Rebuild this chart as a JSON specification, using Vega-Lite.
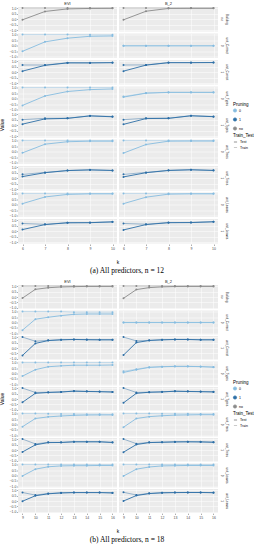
{
"$schema": "https://vega.github.io/schema/vega-lite/v6.json",
"padding": {"left": 0, "top": 1, "right": 0, "bottom": 0},
"background": "white",
"datasets": {
"a": [
{"r":1,"c":"EVI","p":"no","t":"Train","k":6,"v":1},{"r":1,"c":"EVI","p":"no","t":"Train","k":7,"v":1},{"r":1,"c":"EVI","p":"no","t":"Train","k":8,"v":1},{"r":1,"c":"EVI","p":"no","t":"Train","k":9,"v":1},{"r":1,"c":"EVI","p":"no","t":"Train","k":10,"v":1},
{"r":1,"c":"EVI","p":"no","t":"Test","k":6,"v":-0.05},{"r":1,"c":"EVI","p":"no","t":"Test","k":7,"v":0.7},{"r":1,"c":"EVI","p":"no","t":"Test","k":8,"v":0.93},{"r":1,"c":"EVI","p":"no","t":"Test","k":9,"v":0.97},{"r":1,"c":"EVI","p":"no","t":"Test","k":10,"v":0.98},
{"r":2,"c":"EVI","p":"0","t":"Train","k":6,"v":1},{"r":2,"c":"EVI","p":"0","t":"Train","k":7,"v":1},{"r":2,"c":"EVI","p":"0","t":"Train","k":8,"v":1},{"r":2,"c":"EVI","p":"0","t":"Train","k":9,"v":0.98},{"r":2,"c":"EVI","p":"0","t":"Train","k":10,"v":0.98},
{"r":2,"c":"EVI","p":"0","t":"Test","k":6,"v":-0.5},{"r":2,"c":"EVI","p":"0","t":"Test","k":7,"v":0.35},{"r":2,"c":"EVI","p":"0","t":"Test","k":8,"v":0.68},{"r":2,"c":"EVI","p":"0","t":"Test","k":9,"v":0.85},{"r":2,"c":"EVI","p":"0","t":"Test","k":10,"v":0.88},
{"r":3,"c":"EVI","p":"1","t":"Train","k":6,"v":0.65},{"r":3,"c":"EVI","p":"1","t":"Train","k":7,"v":0.65},{"r":3,"c":"EVI","p":"1","t":"Train","k":8,"v":0.86},{"r":3,"c":"EVI","p":"1","t":"Train","k":9,"v":0.85},{"r":3,"c":"EVI","p":"1","t":"Train","k":10,"v":0.87},
{"r":3,"c":"EVI","p":"1","t":"Test","k":6,"v":0.1},{"r":3,"c":"EVI","p":"1","t":"Test","k":7,"v":0.62},{"r":3,"c":"EVI","p":"1","t":"Test","k":8,"v":0.84},{"r":3,"c":"EVI","p":"1","t":"Test","k":9,"v":0.84},{"r":3,"c":"EVI","p":"1","t":"Test","k":10,"v":0.86},
{"r":4,"c":"EVI","p":"0","t":"Train","k":6,"v":1},{"r":4,"c":"EVI","p":"0","t":"Train","k":7,"v":1},{"r":4,"c":"EVI","p":"0","t":"Train","k":8,"v":1},{"r":4,"c":"EVI","p":"0","t":"Train","k":9,"v":1},{"r":4,"c":"EVI","p":"0","t":"Train","k":10,"v":1},
{"r":4,"c":"EVI","p":"0","t":"Test","k":6,"v":-0.6},{"r":4,"c":"EVI","p":"0","t":"Test","k":7,"v":0.25},{"r":4,"c":"EVI","p":"0","t":"Test","k":8,"v":0.65},{"r":4,"c":"EVI","p":"0","t":"Test","k":9,"v":0.82},{"r":4,"c":"EVI","p":"0","t":"Test","k":10,"v":0.88},
{"r":5,"c":"EVI","p":"1","t":"Train","k":6,"v":0.5},{"r":5,"c":"EVI","p":"1","t":"Train","k":7,"v":0.62},{"r":5,"c":"EVI","p":"1","t":"Train","k":8,"v":0.63},{"r":5,"c":"EVI","p":"1","t":"Train","k":9,"v":0.85},{"r":5,"c":"EVI","p":"1","t":"Train","k":10,"v":0.78},
{"r":5,"c":"EVI","p":"1","t":"Test","k":6,"v":0.1},{"r":5,"c":"EVI","p":"1","t":"Test","k":7,"v":0.57},{"r":5,"c":"EVI","p":"1","t":"Test","k":8,"v":0.62},{"r":5,"c":"EVI","p":"1","t":"Test","k":9,"v":0.84},{"r":5,"c":"EVI","p":"1","t":"Test","k":10,"v":0.76},
{"r":6,"c":"EVI","p":"0","t":"Train","k":6,"v":1},{"r":6,"c":"EVI","p":"0","t":"Train","k":7,"v":1},{"r":6,"c":"EVI","p":"0","t":"Train","k":8,"v":1},{"r":6,"c":"EVI","p":"0","t":"Train","k":9,"v":1},{"r":6,"c":"EVI","p":"0","t":"Train","k":10,"v":1},
{"r":6,"c":"EVI","p":"0","t":"Test","k":6,"v":-0.1},{"r":6,"c":"EVI","p":"0","t":"Test","k":7,"v":0.68},{"r":6,"c":"EVI","p":"0","t":"Test","k":8,"v":0.9},{"r":6,"c":"EVI","p":"0","t":"Test","k":9,"v":0.95},{"r":6,"c":"EVI","p":"0","t":"Test","k":10,"v":0.95},
{"r":7,"c":"EVI","p":"1","t":"Train","k":6,"v":0.35},{"r":7,"c":"EVI","p":"1","t":"Train","k":7,"v":0.52},{"r":7,"c":"EVI","p":"1","t":"Train","k":8,"v":0.7},{"r":7,"c":"EVI","p":"1","t":"Train","k":9,"v":0.76},{"r":7,"c":"EVI","p":"1","t":"Train","k":10,"v":0.7},
{"r":7,"c":"EVI","p":"1","t":"Test","k":6,"v":0.15},{"r":7,"c":"EVI","p":"1","t":"Test","k":7,"v":0.5},{"r":7,"c":"EVI","p":"1","t":"Test","k":8,"v":0.69},{"r":7,"c":"EVI","p":"1","t":"Test","k":9,"v":0.75},{"r":7,"c":"EVI","p":"1","t":"Test","k":10,"v":0.7},
{"r":8,"c":"EVI","p":"0","t":"Train","k":6,"v":1},{"r":8,"c":"EVI","p":"0","t":"Train","k":7,"v":1},{"r":8,"c":"EVI","p":"0","t":"Train","k":8,"v":1},{"r":8,"c":"EVI","p":"0","t":"Train","k":9,"v":1},{"r":8,"c":"EVI","p":"0","t":"Train","k":10,"v":1},
{"r":8,"c":"EVI","p":"0","t":"Test","k":6,"v":0.1},{"r":8,"c":"EVI","p":"0","t":"Test","k":7,"v":0.7},{"r":8,"c":"EVI","p":"0","t":"Test","k":8,"v":0.93},{"r":8,"c":"EVI","p":"0","t":"Test","k":9,"v":0.98},{"r":8,"c":"EVI","p":"0","t":"Test","k":10,"v":0.98},
{"r":9,"c":"EVI","p":"1","t":"Train","k":6,"v":0.7},{"r":9,"c":"EVI","p":"1","t":"Train","k":7,"v":0.62},{"r":9,"c":"EVI","p":"1","t":"Train","k":8,"v":0.77},{"r":9,"c":"EVI","p":"1","t":"Train","k":9,"v":0.78},{"r":9,"c":"EVI","p":"1","t":"Train","k":10,"v":0.85},
{"r":9,"c":"EVI","p":"1","t":"Test","k":6,"v":0.15},{"r":9,"c":"EVI","p":"1","t":"Test","k":7,"v":0.6},{"r":9,"c":"EVI","p":"1","t":"Test","k":8,"v":0.76},{"r":9,"c":"EVI","p":"1","t":"Test","k":9,"v":0.77},{"r":9,"c":"EVI","p":"1","t":"Test","k":10,"v":0.84},
{"r":1,"c":"B_2","p":"no","t":"Train","k":6,"v":1},{"r":1,"c":"B_2","p":"no","t":"Train","k":7,"v":1},{"r":1,"c":"B_2","p":"no","t":"Train","k":8,"v":1},{"r":1,"c":"B_2","p":"no","t":"Train","k":9,"v":1},{"r":1,"c":"B_2","p":"no","t":"Train","k":10,"v":1},
{"r":1,"c":"B_2","p":"no","t":"Test","k":6,"v":-0.05},{"r":1,"c":"B_2","p":"no","t":"Test","k":7,"v":0.72},{"r":1,"c":"B_2","p":"no","t":"Test","k":8,"v":0.97},{"r":1,"c":"B_2","p":"no","t":"Test","k":9,"v":0.98},{"r":1,"c":"B_2","p":"no","t":"Test","k":10,"v":0.98},
{"r":2,"c":"B_2","p":"0","t":"Train","k":6,"v":0.01},{"r":2,"c":"B_2","p":"0","t":"Train","k":7,"v":0.01},{"r":2,"c":"B_2","p":"0","t":"Train","k":8,"v":0.01},{"r":2,"c":"B_2","p":"0","t":"Train","k":9,"v":0.01},{"r":2,"c":"B_2","p":"0","t":"Train","k":10,"v":0.01},
{"r":2,"c":"B_2","p":"0","t":"Test","k":6,"v":-0.01},{"r":2,"c":"B_2","p":"0","t":"Test","k":7,"v":-0.01},{"r":2,"c":"B_2","p":"0","t":"Test","k":8,"v":-0.01},{"r":2,"c":"B_2","p":"0","t":"Test","k":9,"v":-0.01},{"r":2,"c":"B_2","p":"0","t":"Test","k":10,"v":-0.01},
{"r":3,"c":"B_2","p":"1","t":"Train","k":6,"v":0.65},{"r":3,"c":"B_2","p":"1","t":"Train","k":7,"v":0.66},{"r":3,"c":"B_2","p":"1","t":"Train","k":8,"v":0.87},{"r":3,"c":"B_2","p":"1","t":"Train","k":9,"v":0.87},{"r":3,"c":"B_2","p":"1","t":"Train","k":10,"v":0.88},
{"r":3,"c":"B_2","p":"1","t":"Test","k":6,"v":0.1},{"r":3,"c":"B_2","p":"1","t":"Test","k":7,"v":0.64},{"r":3,"c":"B_2","p":"1","t":"Test","k":8,"v":0.86},{"r":3,"c":"B_2","p":"1","t":"Test","k":9,"v":0.86},{"r":3,"c":"B_2","p":"1","t":"Test","k":10,"v":0.87},
{"r":4,"c":"B_2","p":"0","t":"Train","k":6,"v":0.2},{"r":4,"c":"B_2","p":"0","t":"Train","k":7,"v":0.52},{"r":4,"c":"B_2","p":"0","t":"Train","k":8,"v":0.58},{"r":4,"c":"B_2","p":"0","t":"Train","k":9,"v":0.58},{"r":4,"c":"B_2","p":"0","t":"Train","k":10,"v":0.58},
{"r":4,"c":"B_2","p":"0","t":"Test","k":6,"v":0.15},{"r":4,"c":"B_2","p":"0","t":"Test","k":7,"v":0.5},{"r":4,"c":"B_2","p":"0","t":"Test","k":8,"v":0.57},{"r":4,"c":"B_2","p":"0","t":"Test","k":9,"v":0.57},{"r":4,"c":"B_2","p":"0","t":"Test","k":10,"v":0.57},
{"r":5,"c":"B_2","p":"1","t":"Train","k":6,"v":0.5},{"r":5,"c":"B_2","p":"1","t":"Train","k":7,"v":0.63},{"r":5,"c":"B_2","p":"1","t":"Train","k":8,"v":0.63},{"r":5,"c":"B_2","p":"1","t":"Train","k":9,"v":0.86},{"r":5,"c":"B_2","p":"1","t":"Train","k":10,"v":0.78},
{"r":5,"c":"B_2","p":"1","t":"Test","k":6,"v":0.08},{"r":5,"c":"B_2","p":"1","t":"Test","k":7,"v":0.6},{"r":5,"c":"B_2","p":"1","t":"Test","k":8,"v":0.62},{"r":5,"c":"B_2","p":"1","t":"Test","k":9,"v":0.85},{"r":5,"c":"B_2","p":"1","t":"Test","k":10,"v":0.77},
{"r":6,"c":"B_2","p":"0","t":"Train","k":6,"v":1},{"r":6,"c":"B_2","p":"0","t":"Train","k":7,"v":1},{"r":6,"c":"B_2","p":"0","t":"Train","k":8,"v":1},{"r":6,"c":"B_2","p":"0","t":"Train","k":9,"v":1},{"r":6,"c":"B_2","p":"0","t":"Train","k":10,"v":1},
{"r":6,"c":"B_2","p":"0","t":"Test","k":6,"v":-0.12},{"r":6,"c":"B_2","p":"0","t":"Test","k":7,"v":0.65},{"r":6,"c":"B_2","p":"0","t":"Test","k":8,"v":0.95},{"r":6,"c":"B_2","p":"0","t":"Test","k":9,"v":0.96},{"r":6,"c":"B_2","p":"0","t":"Test","k":10,"v":0.96},
{"r":7,"c":"B_2","p":"1","t":"Train","k":6,"v":0.35},{"r":7,"c":"B_2","p":"1","t":"Train","k":7,"v":0.52},{"r":7,"c":"B_2","p":"1","t":"Train","k":8,"v":0.71},{"r":7,"c":"B_2","p":"1","t":"Train","k":9,"v":0.77},{"r":7,"c":"B_2","p":"1","t":"Train","k":10,"v":0.71},
{"r":7,"c":"B_2","p":"1","t":"Test","k":6,"v":0.12},{"r":7,"c":"B_2","p":"1","t":"Test","k":7,"v":0.5},{"r":7,"c":"B_2","p":"1","t":"Test","k":8,"v":0.7},{"r":7,"c":"B_2","p":"1","t":"Test","k":9,"v":0.76},{"r":7,"c":"B_2","p":"1","t":"Test","k":10,"v":0.7},
{"r":8,"c":"B_2","p":"0","t":"Train","k":6,"v":1},{"r":8,"c":"B_2","p":"0","t":"Train","k":7,"v":1},{"r":8,"c":"B_2","p":"0","t":"Train","k":8,"v":1},{"r":8,"c":"B_2","p":"0","t":"Train","k":9,"v":1},{"r":8,"c":"B_2","p":"0","t":"Train","k":10,"v":1},
{"r":8,"c":"B_2","p":"0","t":"Test","k":6,"v":0.1},{"r":8,"c":"B_2","p":"0","t":"Test","k":7,"v":0.68},{"r":8,"c":"B_2","p":"0","t":"Test","k":8,"v":0.95},{"r":8,"c":"B_2","p":"0","t":"Test","k":9,"v":0.98},{"r":8,"c":"B_2","p":"0","t":"Test","k":10,"v":0.98},
{"r":9,"c":"B_2","p":"1","t":"Train","k":6,"v":0.7},{"r":9,"c":"B_2","p":"1","t":"Train","k":7,"v":0.63},{"r":9,"c":"B_2","p":"1","t":"Train","k":8,"v":0.78},{"r":9,"c":"B_2","p":"1","t":"Train","k":9,"v":0.79},{"r":9,"c":"B_2","p":"1","t":"Train","k":10,"v":0.86},
{"r":9,"c":"B_2","p":"1","t":"Test","k":6,"v":0.12},{"r":9,"c":"B_2","p":"1","t":"Test","k":7,"v":0.6},{"r":9,"c":"B_2","p":"1","t":"Test","k":8,"v":0.77},{"r":9,"c":"B_2","p":"1","t":"Test","k":9,"v":0.78},{"r":9,"c":"B_2","p":"1","t":"Test","k":10,"v":0.85}
],
"b": [
{"r":1,"c":"EVI","p":"no","t":"Train","k":9,"v":1},{"r":1,"c":"EVI","p":"no","t":"Train","k":10,"v":1},{"r":1,"c":"EVI","p":"no","t":"Train","k":11,"v":1},{"r":1,"c":"EVI","p":"no","t":"Train","k":12,"v":1},{"r":1,"c":"EVI","p":"no","t":"Train","k":13,"v":1},{"r":1,"c":"EVI","p":"no","t":"Train","k":14,"v":1},{"r":1,"c":"EVI","p":"no","t":"Train","k":15,"v":1},{"r":1,"c":"EVI","p":"no","t":"Train","k":16,"v":1},
{"r":1,"c":"EVI","p":"no","t":"Test","k":9,"v":-0.1},{"r":1,"c":"EVI","p":"no","t":"Test","k":10,"v":0.7},{"r":1,"c":"EVI","p":"no","t":"Test","k":11,"v":0.85},{"r":1,"c":"EVI","p":"no","t":"Test","k":12,"v":0.92},{"r":1,"c":"EVI","p":"no","t":"Test","k":13,"v":0.95},{"r":1,"c":"EVI","p":"no","t":"Test","k":14,"v":0.97},{"r":1,"c":"EVI","p":"no","t":"Test","k":15,"v":0.97},{"r":1,"c":"EVI","p":"no","t":"Test","k":16,"v":0.97},
{"r":2,"c":"EVI","p":"0","t":"Train","k":9,"v":1},{"r":2,"c":"EVI","p":"0","t":"Train","k":10,"v":1},{"r":2,"c":"EVI","p":"0","t":"Train","k":11,"v":1},{"r":2,"c":"EVI","p":"0","t":"Train","k":12,"v":1},{"r":2,"c":"EVI","p":"0","t":"Train","k":13,"v":0.95},{"r":2,"c":"EVI","p":"0","t":"Train","k":14,"v":0.95},{"r":2,"c":"EVI","p":"0","t":"Train","k":15,"v":0.95},{"r":2,"c":"EVI","p":"0","t":"Train","k":16,"v":0.95},
{"r":2,"c":"EVI","p":"0","t":"Test","k":9,"v":-0.7},{"r":2,"c":"EVI","p":"0","t":"Test","k":10,"v":0.3},{"r":2,"c":"EVI","p":"0","t":"Test","k":11,"v":0.48},{"r":2,"c":"EVI","p":"0","t":"Test","k":12,"v":0.63},{"r":2,"c":"EVI","p":"0","t":"Test","k":13,"v":0.75},{"r":2,"c":"EVI","p":"0","t":"Test","k":14,"v":0.78},{"r":2,"c":"EVI","p":"0","t":"Test","k":15,"v":0.78},{"r":2,"c":"EVI","p":"0","t":"Test","k":16,"v":0.78},
{"r":3,"c":"EVI","p":"1","t":"Train","k":9,"v":1},{"r":3,"c":"EVI","p":"1","t":"Train","k":10,"v":0.62},{"r":3,"c":"EVI","p":"1","t":"Train","k":11,"v":0.7},{"r":3,"c":"EVI","p":"1","t":"Train","k":12,"v":0.76},{"r":3,"c":"EVI","p":"1","t":"Train","k":13,"v":0.79},{"r":3,"c":"EVI","p":"1","t":"Train","k":14,"v":0.77},{"r":3,"c":"EVI","p":"1","t":"Train","k":15,"v":0.76},{"r":3,"c":"EVI","p":"1","t":"Train","k":16,"v":0.76},
{"r":3,"c":"EVI","p":"1","t":"Test","k":9,"v":-0.68},{"r":3,"c":"EVI","p":"1","t":"Test","k":10,"v":0.42},{"r":3,"c":"EVI","p":"1","t":"Test","k":11,"v":0.68},{"r":3,"c":"EVI","p":"1","t":"Test","k":12,"v":0.75},{"r":3,"c":"EVI","p":"1","t":"Test","k":13,"v":0.78},{"r":3,"c":"EVI","p":"1","t":"Test","k":14,"v":0.76},{"r":3,"c":"EVI","p":"1","t":"Test","k":15,"v":0.75},{"r":3,"c":"EVI","p":"1","t":"Test","k":16,"v":0.75},
{"r":4,"c":"EVI","p":"0","t":"Train","k":9,"v":1},{"r":4,"c":"EVI","p":"0","t":"Train","k":10,"v":1},{"r":4,"c":"EVI","p":"0","t":"Train","k":11,"v":1},{"r":4,"c":"EVI","p":"0","t":"Train","k":12,"v":1},{"r":4,"c":"EVI","p":"0","t":"Train","k":13,"v":1},{"r":4,"c":"EVI","p":"0","t":"Train","k":14,"v":1},{"r":4,"c":"EVI","p":"0","t":"Train","k":15,"v":1},{"r":4,"c":"EVI","p":"0","t":"Train","k":16,"v":1},
{"r":4,"c":"EVI","p":"0","t":"Test","k":9,"v":-0.24},{"r":4,"c":"EVI","p":"0","t":"Test","k":10,"v":0.35},{"r":4,"c":"EVI","p":"0","t":"Test","k":11,"v":0.62},{"r":4,"c":"EVI","p":"0","t":"Test","k":12,"v":0.7},{"r":4,"c":"EVI","p":"0","t":"Test","k":13,"v":0.76},{"r":4,"c":"EVI","p":"0","t":"Test","k":14,"v":0.76},{"r":4,"c":"EVI","p":"0","t":"Test","k":15,"v":0.76},{"r":4,"c":"EVI","p":"0","t":"Test","k":16,"v":0.78},
{"r":5,"c":"EVI","p":"1","t":"Train","k":9,"v":1},{"r":5,"c":"EVI","p":"1","t":"Train","k":10,"v":0.6},{"r":5,"c":"EVI","p":"1","t":"Train","k":11,"v":0.62},{"r":5,"c":"EVI","p":"1","t":"Train","k":12,"v":0.65},{"r":5,"c":"EVI","p":"1","t":"Train","k":13,"v":0.73},{"r":5,"c":"EVI","p":"1","t":"Train","k":14,"v":0.7},{"r":5,"c":"EVI","p":"1","t":"Train","k":15,"v":0.68},{"r":5,"c":"EVI","p":"1","t":"Train","k":16,"v":0.65},
{"r":5,"c":"EVI","p":"1","t":"Test","k":9,"v":-0.3},{"r":5,"c":"EVI","p":"1","t":"Test","k":10,"v":0.52},{"r":5,"c":"EVI","p":"1","t":"Test","k":11,"v":0.6},{"r":5,"c":"EVI","p":"1","t":"Test","k":12,"v":0.64},{"r":5,"c":"EVI","p":"1","t":"Test","k":13,"v":0.72},{"r":5,"c":"EVI","p":"1","t":"Test","k":14,"v":0.69},{"r":5,"c":"EVI","p":"1","t":"Test","k":15,"v":0.67},{"r":5,"c":"EVI","p":"1","t":"Test","k":16,"v":0.64},
{"r":6,"c":"EVI","p":"0","t":"Train","k":9,"v":1},{"r":6,"c":"EVI","p":"0","t":"Train","k":10,"v":1},{"r":6,"c":"EVI","p":"0","t":"Train","k":11,"v":0.98},{"r":6,"c":"EVI","p":"0","t":"Train","k":12,"v":0.97},{"r":6,"c":"EVI","p":"0","t":"Train","k":13,"v":0.96},{"r":6,"c":"EVI","p":"0","t":"Train","k":14,"v":0.95},{"r":6,"c":"EVI","p":"0","t":"Train","k":15,"v":0.95},{"r":6,"c":"EVI","p":"0","t":"Train","k":16,"v":0.93},
{"r":6,"c":"EVI","p":"0","t":"Test","k":9,"v":-0.2},{"r":6,"c":"EVI","p":"0","t":"Test","k":10,"v":0.55},{"r":6,"c":"EVI","p":"0","t":"Test","k":11,"v":0.7},{"r":6,"c":"EVI","p":"0","t":"Test","k":12,"v":0.78},{"r":6,"c":"EVI","p":"0","t":"Test","k":13,"v":0.84},{"r":6,"c":"EVI","p":"0","t":"Test","k":14,"v":0.87},{"r":6,"c":"EVI","p":"0","t":"Test","k":15,"v":0.88},{"r":6,"c":"EVI","p":"0","t":"Test","k":16,"v":0.88},
{"r":7,"c":"EVI","p":"1","t":"Train","k":9,"v":1},{"r":7,"c":"EVI","p":"1","t":"Train","k":10,"v":0.56},{"r":7,"c":"EVI","p":"1","t":"Train","k":11,"v":0.7},{"r":7,"c":"EVI","p":"1","t":"Train","k":12,"v":0.7},{"r":7,"c":"EVI","p":"1","t":"Train","k":13,"v":0.76},{"r":7,"c":"EVI","p":"1","t":"Train","k":14,"v":0.76},{"r":7,"c":"EVI","p":"1","t":"Train","k":15,"v":0.76},{"r":7,"c":"EVI","p":"1","t":"Train","k":16,"v":0.7},
{"r":7,"c":"EVI","p":"1","t":"Test","k":9,"v":-0.18},{"r":7,"c":"EVI","p":"1","t":"Test","k":10,"v":0.47},{"r":7,"c":"EVI","p":"1","t":"Test","k":11,"v":0.68},{"r":7,"c":"EVI","p":"1","t":"Test","k":12,"v":0.69},{"r":7,"c":"EVI","p":"1","t":"Test","k":13,"v":0.75},{"r":7,"c":"EVI","p":"1","t":"Test","k":14,"v":0.75},{"r":7,"c":"EVI","p":"1","t":"Test","k":15,"v":0.75},{"r":7,"c":"EVI","p":"1","t":"Test","k":16,"v":0.69},
{"r":8,"c":"EVI","p":"0","t":"Train","k":9,"v":1},{"r":8,"c":"EVI","p":"0","t":"Train","k":10,"v":1},{"r":8,"c":"EVI","p":"0","t":"Train","k":11,"v":1},{"r":8,"c":"EVI","p":"0","t":"Train","k":12,"v":1},{"r":8,"c":"EVI","p":"0","t":"Train","k":13,"v":1},{"r":8,"c":"EVI","p":"0","t":"Train","k":14,"v":1},{"r":8,"c":"EVI","p":"0","t":"Train","k":15,"v":1},{"r":8,"c":"EVI","p":"0","t":"Train","k":16,"v":1},
{"r":8,"c":"EVI","p":"0","t":"Test","k":9,"v":-0.04},{"r":8,"c":"EVI","p":"0","t":"Test","k":10,"v":0.58},{"r":8,"c":"EVI","p":"0","t":"Test","k":11,"v":0.8},{"r":8,"c":"EVI","p":"0","t":"Test","k":12,"v":0.88},{"r":8,"c":"EVI","p":"0","t":"Test","k":13,"v":0.9},{"r":8,"c":"EVI","p":"0","t":"Test","k":14,"v":0.9},{"r":8,"c":"EVI","p":"0","t":"Test","k":15,"v":0.92},{"r":8,"c":"EVI","p":"0","t":"Test","k":16,"v":0.92},
{"r":9,"c":"EVI","p":"1","t":"Train","k":9,"v":0.78},{"r":9,"c":"EVI","p":"1","t":"Train","k":10,"v":0.54},{"r":9,"c":"EVI","p":"1","t":"Train","k":11,"v":0.69},{"r":9,"c":"EVI","p":"1","t":"Train","k":12,"v":0.75},{"r":9,"c":"EVI","p":"1","t":"Train","k":13,"v":0.78},{"r":9,"c":"EVI","p":"1","t":"Train","k":14,"v":0.78},{"r":9,"c":"EVI","p":"1","t":"Train","k":15,"v":0.78},{"r":9,"c":"EVI","p":"1","t":"Train","k":16,"v":0.75},
{"r":9,"c":"EVI","p":"1","t":"Test","k":9,"v":-0.02},{"r":9,"c":"EVI","p":"1","t":"Test","k":10,"v":0.48},{"r":9,"c":"EVI","p":"1","t":"Test","k":11,"v":0.66},{"r":9,"c":"EVI","p":"1","t":"Test","k":12,"v":0.74},{"r":9,"c":"EVI","p":"1","t":"Test","k":13,"v":0.77},{"r":9,"c":"EVI","p":"1","t":"Test","k":14,"v":0.77},{"r":9,"c":"EVI","p":"1","t":"Test","k":15,"v":0.77},{"r":9,"c":"EVI","p":"1","t":"Test","k":16,"v":0.74},
{"r":1,"c":"B_2","p":"no","t":"Train","k":9,"v":1},{"r":1,"c":"B_2","p":"no","t":"Train","k":10,"v":1},{"r":1,"c":"B_2","p":"no","t":"Train","k":11,"v":1},{"r":1,"c":"B_2","p":"no","t":"Train","k":12,"v":1},{"r":1,"c":"B_2","p":"no","t":"Train","k":13,"v":1},{"r":1,"c":"B_2","p":"no","t":"Train","k":14,"v":1},{"r":1,"c":"B_2","p":"no","t":"Train","k":15,"v":1},{"r":1,"c":"B_2","p":"no","t":"Train","k":16,"v":1},
{"r":1,"c":"B_2","p":"no","t":"Test","k":9,"v":-0.12},{"r":1,"c":"B_2","p":"no","t":"Test","k":10,"v":0.68},{"r":1,"c":"B_2","p":"no","t":"Test","k":11,"v":0.86},{"r":1,"c":"B_2","p":"no","t":"Test","k":12,"v":0.93},{"r":1,"c":"B_2","p":"no","t":"Test","k":13,"v":0.96},{"r":1,"c":"B_2","p":"no","t":"Test","k":14,"v":0.97},{"r":1,"c":"B_2","p":"no","t":"Test","k":15,"v":0.97},{"r":1,"c":"B_2","p":"no","t":"Test","k":16,"v":0.97},
{"r":2,"c":"B_2","p":"0","t":"Train","k":9,"v":0.01},{"r":2,"c":"B_2","p":"0","t":"Train","k":10,"v":0.01},{"r":2,"c":"B_2","p":"0","t":"Train","k":11,"v":0.01},{"r":2,"c":"B_2","p":"0","t":"Train","k":12,"v":0.01},{"r":2,"c":"B_2","p":"0","t":"Train","k":13,"v":0.01},{"r":2,"c":"B_2","p":"0","t":"Train","k":14,"v":0.01},{"r":2,"c":"B_2","p":"0","t":"Train","k":15,"v":0.01},{"r":2,"c":"B_2","p":"0","t":"Train","k":16,"v":0.01},
{"r":2,"c":"B_2","p":"0","t":"Test","k":9,"v":-0.01},{"r":2,"c":"B_2","p":"0","t":"Test","k":10,"v":-0.01},{"r":2,"c":"B_2","p":"0","t":"Test","k":11,"v":-0.01},{"r":2,"c":"B_2","p":"0","t":"Test","k":12,"v":-0.01},{"r":2,"c":"B_2","p":"0","t":"Test","k":13,"v":-0.01},{"r":2,"c":"B_2","p":"0","t":"Test","k":14,"v":-0.01},{"r":2,"c":"B_2","p":"0","t":"Test","k":15,"v":-0.01},{"r":2,"c":"B_2","p":"0","t":"Test","k":16,"v":-0.01},
{"r":3,"c":"B_2","p":"1","t":"Train","k":9,"v":1},{"r":3,"c":"B_2","p":"1","t":"Train","k":10,"v":0.65},{"r":3,"c":"B_2","p":"1","t":"Train","k":11,"v":0.7},{"r":3,"c":"B_2","p":"1","t":"Train","k":12,"v":0.76},{"r":3,"c":"B_2","p":"1","t":"Train","k":13,"v":0.79},{"r":3,"c":"B_2","p":"1","t":"Train","k":14,"v":0.79},{"r":3,"c":"B_2","p":"1","t":"Train","k":15,"v":0.76},{"r":3,"c":"B_2","p":"1","t":"Train","k":16,"v":0.76},
{"r":3,"c":"B_2","p":"1","t":"Test","k":9,"v":-0.65},{"r":3,"c":"B_2","p":"1","t":"Test","k":10,"v":0.5},{"r":3,"c":"B_2","p":"1","t":"Test","k":11,"v":0.69},{"r":3,"c":"B_2","p":"1","t":"Test","k":12,"v":0.75},{"r":3,"c":"B_2","p":"1","t":"Test","k":13,"v":0.78},{"r":3,"c":"B_2","p":"1","t":"Test","k":14,"v":0.78},{"r":3,"c":"B_2","p":"1","t":"Test","k":15,"v":0.75},{"r":3,"c":"B_2","p":"1","t":"Test","k":16,"v":0.75},
{"r":4,"c":"B_2","p":"0","t":"Train","k":9,"v":0.2},{"r":4,"c":"B_2","p":"0","t":"Train","k":10,"v":0.4},{"r":4,"c":"B_2","p":"0","t":"Train","k":11,"v":0.58},{"r":4,"c":"B_2","p":"0","t":"Train","k":12,"v":0.63},{"r":4,"c":"B_2","p":"0","t":"Train","k":13,"v":0.66},{"r":4,"c":"B_2","p":"0","t":"Train","k":14,"v":0.66},{"r":4,"c":"B_2","p":"0","t":"Train","k":15,"v":0.64},{"r":4,"c":"B_2","p":"0","t":"Train","k":16,"v":0.6},
{"r":4,"c":"B_2","p":"0","t":"Test","k":9,"v":0.1},{"r":4,"c":"B_2","p":"0","t":"Test","k":10,"v":0.35},{"r":4,"c":"B_2","p":"0","t":"Test","k":11,"v":0.56},{"r":4,"c":"B_2","p":"0","t":"Test","k":12,"v":0.62},{"r":4,"c":"B_2","p":"0","t":"Test","k":13,"v":0.65},{"r":4,"c":"B_2","p":"0","t":"Test","k":14,"v":0.65},{"r":4,"c":"B_2","p":"0","t":"Test","k":15,"v":0.63},{"r":4,"c":"B_2","p":"0","t":"Test","k":16,"v":0.58},
{"r":5,"c":"B_2","p":"1","t":"Train","k":9,"v":1},{"r":5,"c":"B_2","p":"1","t":"Train","k":10,"v":0.6},{"r":5,"c":"B_2","p":"1","t":"Train","k":11,"v":0.63},{"r":5,"c":"B_2","p":"1","t":"Train","k":12,"v":0.66},{"r":5,"c":"B_2","p":"1","t":"Train","k":13,"v":0.72},{"r":5,"c":"B_2","p":"1","t":"Train","k":14,"v":0.7},{"r":5,"c":"B_2","p":"1","t":"Train","k":15,"v":0.68},{"r":5,"c":"B_2","p":"1","t":"Train","k":16,"v":0.66},
{"r":5,"c":"B_2","p":"1","t":"Test","k":9,"v":-0.35},{"r":5,"c":"B_2","p":"1","t":"Test","k":10,"v":0.52},{"r":5,"c":"B_2","p":"1","t":"Test","k":11,"v":0.62},{"r":5,"c":"B_2","p":"1","t":"Test","k":12,"v":0.65},{"r":5,"c":"B_2","p":"1","t":"Test","k":13,"v":0.71},{"r":5,"c":"B_2","p":"1","t":"Test","k":14,"v":0.69},{"r":5,"c":"B_2","p":"1","t":"Test","k":15,"v":0.67},{"r":5,"c":"B_2","p":"1","t":"Test","k":16,"v":0.65},
{"r":6,"c":"B_2","p":"0","t":"Train","k":9,"v":1},{"r":6,"c":"B_2","p":"0","t":"Train","k":10,"v":1},{"r":6,"c":"B_2","p":"0","t":"Train","k":11,"v":1},{"r":6,"c":"B_2","p":"0","t":"Train","k":12,"v":0.98},{"r":6,"c":"B_2","p":"0","t":"Train","k":13,"v":0.98},{"r":6,"c":"B_2","p":"0","t":"Train","k":14,"v":0.98},{"r":6,"c":"B_2","p":"0","t":"Train","k":15,"v":0.97},{"r":6,"c":"B_2","p":"0","t":"Train","k":16,"v":0.97},
{"r":6,"c":"B_2","p":"0","t":"Test","k":9,"v":-0.25},{"r":6,"c":"B_2","p":"0","t":"Test","k":10,"v":0.55},{"r":6,"c":"B_2","p":"0","t":"Test","k":11,"v":0.72},{"r":6,"c":"B_2","p":"0","t":"Test","k":12,"v":0.8},{"r":6,"c":"B_2","p":"0","t":"Test","k":13,"v":0.86},{"r":6,"c":"B_2","p":"0","t":"Test","k":14,"v":0.88},{"r":6,"c":"B_2","p":"0","t":"Test","k":15,"v":0.9},{"r":6,"c":"B_2","p":"0","t":"Test","k":16,"v":0.9},
{"r":7,"c":"B_2","p":"1","t":"Train","k":9,"v":1},{"r":7,"c":"B_2","p":"1","t":"Train","k":10,"v":0.58},{"r":7,"c":"B_2","p":"1","t":"Train","k":11,"v":0.7},{"r":7,"c":"B_2","p":"1","t":"Train","k":12,"v":0.72},{"r":7,"c":"B_2","p":"1","t":"Train","k":13,"v":0.75},{"r":7,"c":"B_2","p":"1","t":"Train","k":14,"v":0.76},{"r":7,"c":"B_2","p":"1","t":"Train","k":15,"v":0.75},{"r":7,"c":"B_2","p":"1","t":"Train","k":16,"v":0.72},
{"r":7,"c":"B_2","p":"1","t":"Test","k":9,"v":-0.2},{"r":7,"c":"B_2","p":"1","t":"Test","k":10,"v":0.5},{"r":7,"c":"B_2","p":"1","t":"Test","k":11,"v":0.68},{"r":7,"c":"B_2","p":"1","t":"Test","k":12,"v":0.71},{"r":7,"c":"B_2","p":"1","t":"Test","k":13,"v":0.74},{"r":7,"c":"B_2","p":"1","t":"Test","k":14,"v":0.75},{"r":7,"c":"B_2","p":"1","t":"Test","k":15,"v":0.74},{"r":7,"c":"B_2","p":"1","t":"Test","k":16,"v":0.71},
{"r":8,"c":"B_2","p":"0","t":"Train","k":9,"v":1},{"r":8,"c":"B_2","p":"0","t":"Train","k":10,"v":1},{"r":8,"c":"B_2","p":"0","t":"Train","k":11,"v":1},{"r":8,"c":"B_2","p":"0","t":"Train","k":12,"v":1},{"r":8,"c":"B_2","p":"0","t":"Train","k":13,"v":1},{"r":8,"c":"B_2","p":"0","t":"Train","k":14,"v":1},{"r":8,"c":"B_2","p":"0","t":"Train","k":15,"v":1},{"r":8,"c":"B_2","p":"0","t":"Train","k":16,"v":1},
{"r":8,"c":"B_2","p":"0","t":"Test","k":9,"v":-0.05},{"r":8,"c":"B_2","p":"0","t":"Test","k":10,"v":0.58},{"r":8,"c":"B_2","p":"0","t":"Test","k":11,"v":0.78},{"r":8,"c":"B_2","p":"0","t":"Test","k":12,"v":0.88},{"r":8,"c":"B_2","p":"0","t":"Test","k":13,"v":0.9},{"r":8,"c":"B_2","p":"0","t":"Test","k":14,"v":0.92},{"r":8,"c":"B_2","p":"0","t":"Test","k":15,"v":0.92},{"r":8,"c":"B_2","p":"0","t":"Test","k":16,"v":0.92},
{"r":9,"c":"B_2","p":"1","t":"Train","k":9,"v":0.8},{"r":9,"c":"B_2","p":"1","t":"Train","k":10,"v":0.55},{"r":9,"c":"B_2","p":"1","t":"Train","k":11,"v":0.7},{"r":9,"c":"B_2","p":"1","t":"Train","k":12,"v":0.76},{"r":9,"c":"B_2","p":"1","t":"Train","k":13,"v":0.78},{"r":9,"c":"B_2","p":"1","t":"Train","k":14,"v":0.79},{"r":9,"c":"B_2","p":"1","t":"Train","k":15,"v":0.79},{"r":9,"c":"B_2","p":"1","t":"Train","k":16,"v":0.77},
{"r":9,"c":"B_2","p":"1","t":"Test","k":9,"v":0},{"r":9,"c":"B_2","p":"1","t":"Test","k":10,"v":0.5},{"r":9,"c":"B_2","p":"1","t":"Test","k":11,"v":0.68},{"r":9,"c":"B_2","p":"1","t":"Test","k":12,"v":0.75},{"r":9,"c":"B_2","p":"1","t":"Test","k":13,"v":0.77},{"r":9,"c":"B_2","p":"1","t":"Test","k":14,"v":0.78},{"r":9,"c":"B_2","p":"1","t":"Test","k":15,"v":0.78},{"r":9,"c":"B_2","p":"1","t":"Test","k":16,"v":0.76}
]
},
"vconcat": [
{
"data": {"name": "a"},
"title": {"text": "(a) All predictors, n = 12", "orient": "bottom", "anchor": "middle", "font": "Liberation Serif", "fontSize": 7.5, "fontWeight": "normal", "color": "#000000", "offset": 2},
"bounds": "flush",
"facet": {
"row": {"field": "r", "type": "ordinal", "header": {"title": "Value", "titleOrient": "left", "titleFontSize": 5, "titleFontWeight": "normal", "titlePadding": -6, "labelOrient": "right", "labelAngle": 90, "labelFontSize": 3, "labelPadding": 1.5, "labelColor": "#1A1A1A", "labelExpr": "split(['','Building|no','unit_Correct|0','unit_Correct|1','unit_Types|0','unit_Types|1','unit_Trees|0','unit_Trees|1','unit_Leaves|0','unit_Leaves|1'][datum.value], '|')"}},
"column": {"field": "c", "type": "nominal", "sort": ["EVI", "B_2"], "header": {"title": "k", "titleOrient": "bottom", "titleFontSize": 5, "titleFontWeight": "normal", "titlePadding": 0, "labelOrient": "top", "labelFontSize": 4, "labelPadding": 1.5, "labelColor": "#1A1A1A"}}
},
"spacing": {"row": 1.5, "column": 2},
"spec": {
"width": 99, "height": 24.5,
"encoding": {
"x": {"field": "k", "type": "quantitative", "scale": {"domain": [5.8, 10.2], "nice": false, "zero": false}, "axis": {"values": [6, 7, 8, 9, 10], "title": null}},
"y": {"field": "v", "type": "quantitative", "scale": {"domain": [-1.1, 1.1], "nice": false}, "axis": {"values": [-1, -0.5, 0, 0.5, 1], "format": ".1f", "title": null}},
"color": {"field": "p", "type": "nominal", "scale": {"domain": ["0", "1", "no"], "range": ["#86BCE0", "#2C6EA6", "#8A8A8A"]}, "legend": {"title": "Pruning", "orient": "none", "legendX": 215, "legendY": 95}}
},
"layer": [
{"mark": {"type": "line"}, "encoding": {"strokeWidth": {"field": "t", "type": "nominal", "scale": {"domain": ["Test", "Train"], "range": [0.9, 0.45]}, "legend": {"title": "Train_Test", "orient": "none", "legendX": 215, "legendY": 126}}, "detail": {"field": "t"}}},
{"mark": {"type": "point", "filled": true, "size": 4, "opacity": 1}, "encoding": {}}
]
}
},
{
"data": {"name": "b"},
"title": {"text": "(b) All predictors, n = 18", "orient": "bottom", "anchor": "middle", "font": "Liberation Serif", "fontSize": 7.5, "fontWeight": "normal", "color": "#000000", "offset": 2},
"bounds": "flush",
"facet": {
"row": {"field": "r", "type": "ordinal", "header": {"title": "Value", "titleOrient": "left", "titleFontSize": 5, "titleFontWeight": "normal", "titlePadding": -6, "labelOrient": "right", "labelAngle": 90, "labelFontSize": 3, "labelPadding": 1.5, "labelColor": "#1A1A1A", "labelExpr": "split(['','Building|no','unit_Correct|0','unit_Correct|1','unit_Types|0','unit_Types|1','unit_Trees|0','unit_Trees|1','unit_Leaves|0','unit_Leaves|1'][datum.value], '|')"}},
"column": {"field": "c", "type": "nominal", "sort": ["EVI", "B_2"], "header": {"title": "k", "titleOrient": "bottom", "titleFontSize": 5, "titleFontWeight": "normal", "titlePadding": 0, "labelOrient": "top", "labelFontSize": 4, "labelPadding": 1.5, "labelColor": "#1A1A1A"}}
},
"spacing": {"row": 1.5, "column": 2},
"spec": {
"width": 99, "height": 24,
"encoding": {
"x": {"field": "k", "type": "quantitative", "scale": {"domain": [8.65, 16.35], "nice": false, "zero": false}, "axis": {"values": [9, 10, 11, 12, 13, 14, 15, 16], "title": null}},
"y": {"field": "v", "type": "quantitative", "scale": {"domain": [-1.1, 1.1], "nice": false}, "axis": {"values": [-1, -0.5, 0, 0.5, 1], "format": ".1f", "title": null}},
"color": {"field": "p", "type": "nominal", "scale": {"domain": ["0", "1", "no"], "range": ["#86BCE0", "#2C6EA6", "#8A8A8A"]}, "legend": {"title": "Pruning", "orient": "none", "legendX": 215, "legendY": 95}}
},
"layer": [
{"mark": {"type": "line"}, "encoding": {"strokeWidth": {"field": "t", "type": "nominal", "scale": {"domain": ["Test", "Train"], "range": [0.9, 0.45]}, "legend": {"title": "Train_Test", "orient": "none", "legendX": 215, "legendY": 126}}, "detail": {"field": "t"}}},
{"mark": {"type": "point", "filled": true, "size": 4, "opacity": 1}, "encoding": {}}
]
}
}
],
"spacing": 4,
"resolve": {"scale": {"x": "independent"}, "legend": {"color": "independent", "strokeWidth": "independent"}},
"config": {
"font": "Liberation Sans",
"view": {"fill": "#EBEBEB", "stroke": null},
"axis": {"labelFontSize": 3.5, "labelColor": "#4D4D4D", "tickColor": "#333333", "tickSize": 1.5, "tickWidth": 0.4, "domain": false, "gridColor": "#FFFFFF", "gridWidth": 0.5, "labelPadding": 0.5},
"legend": {"titleFontSize": 4.5, "titleFontWeight": "normal", "labelFontSize": 3.5, "symbolSize": 10, "rowPadding": 1, "titlePadding": 2, "padding": 0, "symbolStrokeWidth": 0.8, "labelOffset": 2}
}
}
